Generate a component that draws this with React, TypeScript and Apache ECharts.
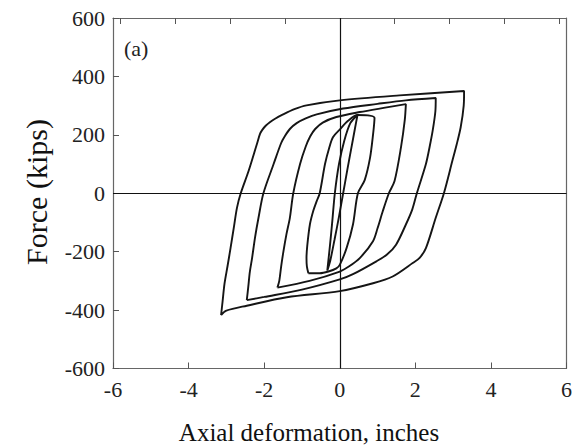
import React, { useEffect, useRef } from "react";
import * as echarts from "echarts";

// Axis settings
const xMin = -6;
const xMax = 6;
const xStep = 2;
const yMin = -600;
const yMax = 600;
const yStep = 200;
const topTickValues = [-5.8, -4.35, -2.9, -1.45, 0, 1.45, 2.9, 4.35, 5.8];

const xTitle = "Axial deformation, inches";
const yTitle = "Force (kips)";
const panelLabel = "(a)";

// Hysteresis loops: [axial deformation (in), force (kips)]
const loopA: [number, number][] = [
  [-3.14, -417], [-3.1, -370], [-3.05, -310], [-2.97, -250], [-2.89, -188], [-2.8, -115],
  [-2.72, -50], [-2.62, 0], [-2.41, 77], [-2.2, 165], [-2.11, 203], [-2.05, 217], [-1.96, 231],
  [-1.85, 243], [-1.7, 256], [-1.5, 270], [-1.2, 288], [-0.88, 301], [0, 318], [1.58, 335],
  [3.29, 350],
  [3.28, 300], [3.2, 226], [3.09, 165], [2.98, 111], [2.76, 2], [2.54, -84], [2.28, -188],
  [2.12, -220], [1.93, -239], [1.4, -285], [0.88, -308], [0, -335], [-1.4, -356],
  [-2.46, -385], [-3.0, -402], [-3.14, -417],
];
const loopB: [number, number][] = [
  [-2.46, -366], [-2.42, -320], [-2.38, -270], [-2.32, -222], [-2.24, -150], [-2.15, -84],
  [-2.02, 0], [-1.75, 100], [-1.55, 172], [-1.45, 196], [-1.32, 220], [-1.14, 240], [-0.9, 256],
  [-0.61, 270], [0.09, 290], [1.0, 306], [1.75, 318], [2.54, 326],
  [2.53, 280], [2.46, 215], [2.38, 160], [2.28, 100], [2.04, 0], [1.92, -55], [1.75, -107],
  [1.49, -176], [1.25, -210], [0.97, -233], [0.35, -277], [0, -295], [-1.0, -330],
  [-2.0, -355], [-2.46, -366],
];
const loopC: [number, number][] = [
  [-1.65, -323], [-1.6, -300], [-1.55, -250], [-1.49, -199], [-1.41, -140], [-1.32, -84],
  [-1.23, 0], [-1.05, 100], [-0.9, 160], [-0.78, 195], [-0.65, 220], [-0.45, 242], [-0.09, 261],
  [0.53, 278], [1.2, 293], [1.75, 305],
  [1.72, 250], [1.62, 157], [1.45, 42], [1.3, 0], [1.14, -61], [1.0, -120], [0.88, -164],
  [0.53, -222], [0.25, -250], [0, -268], [-0.8, -300], [-1.65, -323],
];
const loopD: [number, number][] = [
  [-0.83, -274], [-0.87, -250], [-0.88, -222], [-0.86, -180], [-0.79, -107], [-0.7, -60],
  [-0.61, -27], [-0.53, 0], [-0.39, 100], [-0.28, 155], [-0.18, 192], [0, 218], [0.22, 248],
  [0.47, 268], [0.92, 258],
  [0.88, 200], [0.8, 120], [0.66, 45], [0.48, 0], [0.35, -107], [0.18, -188], [0, -245],
  [-0.09, -257], [-0.3, -268], [-0.53, -274], [-0.83, -274],
];
const loopE: [number, number][] = [
  [-0.33, -265], [-0.26, -180], [-0.2, -100], [-0.13, 0], [-0.02, 100], [0.12, 180],
  [0.28, 240], [0.47, 268],
  [0.4, 220], [0.3, 150], [0.2, 80], [0.09, 0], [-0.02, -80], [-0.14, -160], [-0.25, -230],
  [-0.33, -265],
];
const loops = [loopA, loopB, loopC, loopD, loopE];

const FONT = "Liberation Serif";

export default function App() {
  const ref = useRef<HTMLDivElement>(null);
  useEffect(() => {
    if (!ref.current) return;
    const chart = echarts.init(ref.current, null, { renderer: "svg" });
    const lineSeries = loops.map((d, i) => ({
      type: "line" as const,
      data: d,
      showSymbol: false,
      smooth: 0.3,
      lineStyle: { color: "#151515", width: 1.9 },
      silent: true,
      z: 3,
      ...(i === 0
        ? {
            markLine: {
              silent: true,
              symbol: "none",
              label: { show: false },
              lineStyle: { color: "#111", width: 1.2, type: "solid" as const },
              data: [{ xAxis: 0 }, { yAxis: 0 }],
            },
          }
        : {}),
    }));
    chart.setOption({
      animation: false,
      backgroundColor: "#fff",
      textStyle: { fontFamily: FONT },
      graphic: [
        {
          type: "text",
          x: 124,
          y: 37,
          silent: true,
          style: { text: panelLabel, fontFamily: FONT, fontSize: 22, fill: "#222" },
        },
        {
          type: "text",
          x: 309,
          y: 432,
          silent: true,
          style: {
            text: xTitle,
            fontFamily: FONT,
            fontSize: 25,
            fill: "#111",
            align: "center",
            verticalAlign: "middle",
          },
        },
        {
          type: "text",
          x: 36,
          y: 192,
          rotation: Math.PI / 2,
          silent: true,
          style: {
            text: yTitle,
            fontFamily: FONT,
            fontSize: 30,
            fill: "#111",
            align: "center",
            verticalAlign: "middle",
          },
        },
      ],
      grid: { left: 113, right: 7, top: 18, bottom: 76.5, containLabel: false },
      xAxis: [
        {
          type: "value",
          min: xMin,
          max: xMax,
          interval: xStep,
          position: "bottom",
          axisLine: { show: true, onZero: false, lineStyle: { color: "#666", width: 1.2 } },
          axisTick: { show: true, inside: true, length: 6, lineStyle: { color: "#555" } },
          axisLabel: { fontFamily: FONT, fontSize: 22, color: "#222", margin: 10 },
          splitLine: { show: false },
        },
        {
          type: "value",
          min: xMin,
          max: xMax,
          position: "top",
          axisLine: { show: true, onZero: false, lineStyle: { color: "#666", width: 1.2 } },
          axisTick: { show: true, inside: true, length: 6, customValues: topTickValues, lineStyle: { color: "#555" } },
          axisLabel: { show: false },
          splitLine: { show: false },
        },
      ],
      yAxis: [
        {
          type: "value",
          min: yMin,
          max: yMax,
          interval: yStep,
          position: "left",
          axisLine: { show: true, onZero: false, lineStyle: { color: "#666", width: 1.2 } },
          axisTick: { show: true, inside: true, length: 6, lineStyle: { color: "#555" } },
          axisLabel: { fontFamily: FONT, fontSize: 22, color: "#222", margin: 8 },
          splitLine: { show: false },
        },
        {
          type: "value",
          min: yMin,
          max: yMax,
          position: "right",
          axisLine: { show: true, onZero: false, lineStyle: { color: "#666", width: 1.2 } },
          axisTick: { show: false },
          axisLabel: { show: false },
          splitLine: { show: false },
        },
      ],
      series: lineSeries,
    });
    return () => chart.dispose();
  }, []);
  return (
    <div
      ref={ref}
      style={{ position: "fixed", left: 0, top: 0, width: 575, height: 445, background: "#fff" }}
    />
  );
}
